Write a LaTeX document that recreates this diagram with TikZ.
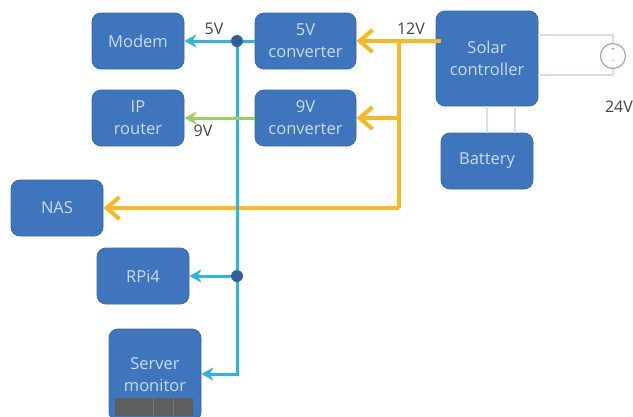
\documentclass[tikz,border=0pt]{standalone}
\usepackage{fontspec}
\setmainfont{Open Sans}
\usetikzlibrary{arrows.meta}
\definecolor{boxfill}{HTML}{3F75BC}
\definecolor{boxedge}{HTML}{3A6AA8}
\definecolor{boxtext}{HTML}{C9DCF2}
\definecolor{yelline}{HTML}{F5B921}
\definecolor{bluline}{HTML}{2BB5E6}
\definecolor{grnline}{HTML}{9BCF5F}
\definecolor{palline}{HTML}{D3DFEE}
\definecolor{lbltext}{HTML}{444444}
\definecolor{jointc}{HTML}{2E6296}
\definecolor{rackc}{HTML}{5E5E5C}
\tikzset{
  x=1pt,y=-1pt,
  unit/.style={draw=boxedge,fill=boxfill,text=boxtext,line width=0.8pt,rounded corners=9pt,
    inner sep=0pt,align=center,font=\fontsize{16.5}{22}\selectfont},
  lbl/.style={text=lbltext,inner sep=0pt,font=\fontsize{16}{18}\selectfont},
  yelbus/.style={draw=yelline,line width=4pt},
  yelarr/.style={yelbus,-{Straight Barb[length=13pt,width=22pt,line width=4pt]}},
  bluarr/.style={draw=bluline,line width=3pt,-{Stealth[length=12pt,width=13pt]}},
  blubus/.style={draw=bluline,line width=3pt},
  grnarr/.style={draw=grnline,line width=3pt,-{Stealth[length=12pt,width=13pt]}},
  palwire/.style={draw=palline,line width=1.6pt},
  joint/.style={circle,fill=jointc,minimum size=12pt,inner sep=0pt},
}
\begin{document}
\begin{tikzpicture}
\useasboundingbox (0,0) rectangle (633,416);
\clip (0,0) rectangle (633,416);
\fill[white] (0,0) rectangle (633,416);
% boxes
\node[unit,minimum width=92pt,minimum height=56pt] (modem) at (138,41) {Modem};
\node[unit,minimum width=101pt,minimum height=56pt] (conv5) at (305.5,41) {5V\\converter};
\node[unit,minimum width=92pt,minimum height=56pt] (router) at (138,118) {IP\\router};
\node[unit,minimum width=101pt,minimum height=56pt] (conv9) at (305.5,118) {9V\\converter};
\node[unit,minimum width=102pt,minimum height=95pt] (solar) at (487,58.5) {Solar\\controller};
\node[unit,minimum width=92pt,minimum height=56pt] (batt) at (487,161) {Battery};
\node[unit,minimum width=92pt,minimum height=56pt] (nas) at (57,208) {NAS};
\node[unit,minimum width=92pt,minimum height=56pt] (rpi) at (143,276) {RPi4};
\node[unit,minimum width=92pt,minimum height=92pt] (srv) at (155,375) {Server\\monitor};
\fill[rackc] (115,398) rectangle (193,416);
\foreach \bx in {153,173} \draw[black!55,line width=0.7pt] (\bx,398) -- (\bx,416);
% junctions and free points
\coordinate (ytop) at (399,41);
\coordinate (ymid) at (399,118);
\coordinate (ybot) at (399,208);
\coordinate (sbend) at (237,374);
\node[joint] (j1) at (237,41) {};
\node[joint] (j2) at (237,276) {};
% yellow supply
\draw[yelbus] ([xshift=5pt]solar.west |- ytop) -- (ytop);
\draw[yelarr] (ytop) -- (conv5.east);
\draw[yelarr] (ymid) -- (conv9.east);
\draw[yelbus] (ytop) -- (ybot);
\draw[yelarr] (ybot) -- (nas.east);
% blue supply
\draw[blubus] (conv5.west) -- (j1);
\draw[bluarr] (j1) -- (modem.east);
\draw[blubus] (j1) -- (j2);
\draw[bluarr] (j2) -- (rpi.east);
\draw[bluarr] (j2) -- (sbend) -- (srv.east |- sbend);
% green supply
\draw[grnarr] (conv9.west) -- (router.east);
% source
\node[circle,draw=gray!70,fill=white,line width=1.2pt,minimum size=25pt,inner sep=0pt] (src) at (613,56) {};
\coordinate (su) at (613,35);
\coordinate (sl) at (613,75);
\draw[palwire] (solar.east |- su) -- (su) -- (src.north);
\draw[palwire] (solar.east |- sl) -- (sl) -- (src.south);
\node[inner sep=0pt,text=lbltext,font=\fontsize{6}{6}\selectfont] (srcp) at (613,50) {+};
\node[inner sep=0pt,text=lbltext,font=\fontsize{6}{6}\selectfont] (srcm) at (613,62) {-};
% battery links
\coordinate (b1) at (487,133);
\coordinate (b2) at (515,133);
\draw[palwire] (b1 |- solar.south) -- (b1);
\draw[palwire] (b2 |- solar.south) -- (b2);
% labels
\node[lbl] (l5) at (214,29) {5V};
\node[lbl] (l12) at (411,29) {12V};
\node[lbl] (l9) at (203,131) {9V};
\node[lbl] (l24) at (619,107) {24V};
\end{tikzpicture}
\end{document}
